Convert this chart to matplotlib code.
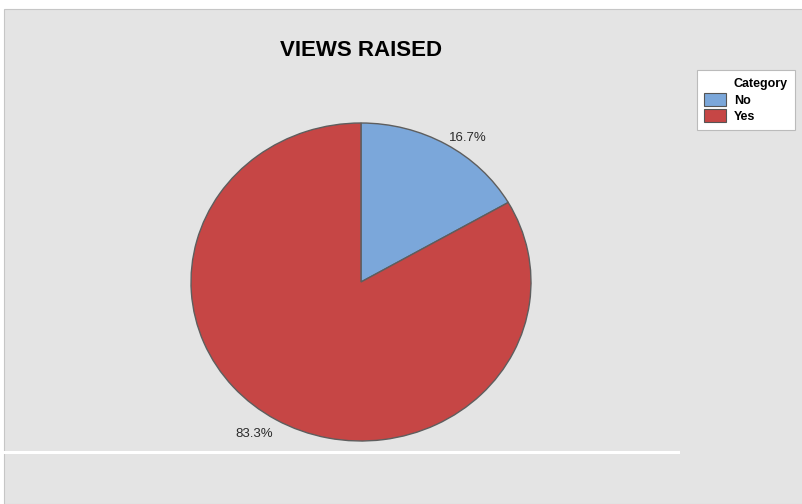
import numpy as np
import matplotlib.pyplot as plt
from matplotlib.patches import Patch, Rectangle

categories = ["No", "Yes"]
counts = [1, 5]
colors = ["#7ba7da", "#c64645"]

plt.rcParams["font.family"] = ["Liberation Sans", "DejaVu Sans"]

W, H = 803, 504
fig = plt.figure(figsize=(W / 100, H / 100), dpi=100)
fig.patch.set_facecolor("white")


def px(x, y):
    # pixel coords (origin top-left) -> figure fraction
    return x / W, 1 - y / H


# gray panel background with the thin white rule near the bottom
fig.patches.append(Rectangle(px(4, 504), 799 / W, 495 / H, transform=fig.transFigure,
                             facecolor="#e4e4e4", edgecolor="#c6c6c6", linewidth=0.8, zorder=-5))
fig.add_artist(plt.Line2D([4 / W, 678 / W], [1 - 452 / H] * 2, color="white", linewidth=2.2, zorder=-4))

# pie axes: centre (361, 282) px, radii 170 x 159 px
rx, ry = 170, 159
cx, cy = 361, 282
ax = fig.add_axes([(cx - 1.25 * rx) / W, (H - cy - 1.25 * ry) / H, 2.5 * rx / W, 2.5 * ry / H])
wedges, _, pcts = ax.pie(counts, colors=colors, startangle=90, counterclock=False,
                         autopct="%1.1f%%", pctdistance=1.12,
                         wedgeprops=dict(edgecolor="#5e5e5e", linewidth=1.0),
                         textprops=dict(fontsize=9.5, color="#2a2a2a"))
# percent labels sit a little clockwise of each wedge's middle, nudged down a touch
for w, t in zip(wedges, pcts):
    ang = np.deg2rad((w.theta1 + w.theta2) / 2 - 4)
    t.set_position((1.12 * np.cos(ang), 1.12 * np.sin(ang) - 0.025))
ax.set_aspect("auto")
ax.set_xlim(-1.25, 1.25)
ax.set_ylim(-1.25, 1.25)
ax.axis("off")

fig.text(*px(361, 50), "VIEWS RAISED", ha="center", va="center",
         fontsize=16, fontweight="bold", color="black")

# legend: blank first row carries the "Category" heading, aligned with the labels
handles = [Patch(facecolor="none", edgecolor="none")]
handles += [Patch(facecolor=c, edgecolor="#555555", linewidth=0.8) for c in colors]
leg = fig.legend(handles, ["Category"] + categories, loc="upper left",
                 bbox_to_anchor=px(697, 70), bbox_transform=fig.transFigure,
                 prop=dict(size=9, weight="bold"),
                 fancybox=False, framealpha=1, edgecolor="#bbbbbb",
                 handlelength=1.8, handleheight=1.2, handletextpad=0.6, labelspacing=0.2,
                 borderpad=0.55, borderaxespad=0)
leg.get_frame().set_linewidth(0.8)

fig.savefig("out.png", dpi=100)
